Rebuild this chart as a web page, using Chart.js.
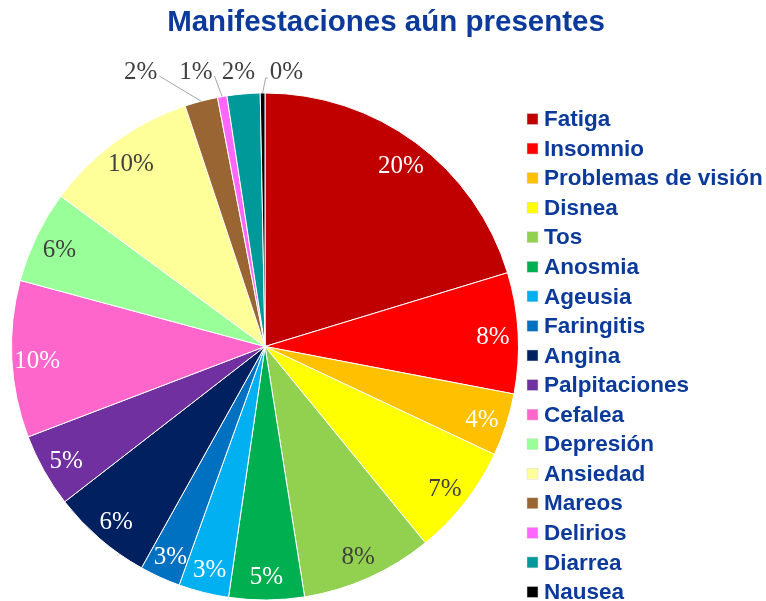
<!DOCTYPE html>
<html>
<head>
<meta charset="utf-8">
<script src="https://cdn.jsdelivr.net/npm/chart.js@4.4.1/dist/chart.umd.min.js"></script>
<style>
  html, body { margin: 0; padding: 0; background: #fff; }
  #wrap { width: 766px; height: 601px; }
</style>
</head>
<body>
<div id="wrap"><canvas id="pieChart" width="766" height="601"></canvas></div>
<script>
var categories = ['Fatiga', 'Insomnio', 'Problemas de visión', 'Disnea', 'Tos', 'Anosmia',
    'Ageusia', 'Faringitis', 'Angina', 'Palpitaciones', 'Cefalea', 'Depresión',
    'Ansiedad', 'Mareos', 'Delirios', 'Diarrea', 'Nausea'];
var percentages = [20.3, 7.7, 4.0, 7.1, 8.4, 4.8, 3.2, 2.6, 6.4, 4.7, 10.0, 5.9, 9.8, 2.1, 0.6, 2.1, 0.3];
var sliceColors = ['#C00000', '#FF0000', '#FFC000', '#FFFF00', '#92D050', '#00B050',
    '#00B0F0', '#0070C0', '#002060', '#7030A0', '#FF66CC', '#99FF99',
    '#FFFF99', '#996633', '#FF66FF', '#009999', '#000000'];

// dark text on the light slices, white everywhere else
var darkLabel = ['Disnea', 'Tos', 'Depresión', 'Ansiedad'];
// small slices get their label above the pie
var outsideLabel = {
    'Mareos': { dx: -54, line: true },
    'Delirios': { dx: -22, line: true },
    'Diarrea': { dx: -3, line: false },
    'Nausea': { dx: 24, line: true }
};

var blue = '#0B3A9B';
var chartTitle = 'Manifestaciones aún presentes';

var sliceLabels = {
    id: 'sliceLabels',
    afterDatasetsDraw: function (chart) {
        var ctx = chart.ctx;
        var meta = chart.getDatasetMeta(0);
        var total = percentages.reduce(function (a, b) { return a + b; }, 0);
        ctx.save();
        ctx.font = '25px "Liberation Serif"';
        ctx.textAlign = 'center';
        ctx.textBaseline = 'middle';
        meta.data.forEach(function (arc, i) {
            var p = arc.getProps(['x', 'y', 'startAngle', 'endAngle', 'outerRadius']);
            var mid = (p.startAngle + p.endAngle) / 2;
            var txt = Math.round(percentages[i] / total * 100) + '%';
            var name = categories[i];
            if (outsideLabel[name]) {
                var o = outsideLabel[name];
                var ax = p.x + Math.cos(mid) * p.outerRadius;
                var ay = p.y + Math.sin(mid) * p.outerRadius;
                var tx = p.x + Math.cos(mid) * (p.outerRadius + 26) + o.dx;
                var ty = p.y - p.outerRadius - 21;
                var w = ctx.measureText(txt).width;
                if (o.line) {
                    ctx.strokeStyle = '#A6A6A6';
                    ctx.lineWidth = 1;
                    ctx.beginPath();
                    ctx.moveTo(ax, ay);
                    if (tx > ax) {
                        ctx.lineTo(ax + 3, ty + 6);
                        ctx.lineTo(tx - w / 2 - 2, ty + 6);
                    } else {
                        ctx.lineTo(tx + w / 2 + 2, ty + 4);
                    }
                    ctx.stroke();
                }
                ctx.fillStyle = '#404040';
                ctx.fillText(txt, tx, ty);
            } else {
                var r = p.outerRadius * 0.9;
                ctx.fillStyle = darkLabel.indexOf(name) >= 0 ? '#404040' : '#FFFFFF';
                ctx.fillText(txt, p.x + Math.cos(mid) * r, p.y + Math.sin(mid) * r + 3);
            }
        });
        ctx.restore();
    }
};

var titleAndLegend = {
    id: 'titleAndLegend',
    afterDraw: function (chart) {
        var ctx = chart.ctx;
        ctx.save();
        ctx.fillStyle = blue;
        ctx.font = 'bold 29.5px "Liberation Sans"';
        ctx.textAlign = 'center';
        ctx.textBaseline = 'middle';
        ctx.fillText(chartTitle, 386, 23);

        ctx.font = 'bold 22.5px "Liberation Sans"';
        ctx.textAlign = 'left';
        categories.forEach(function (name, i) {
            var y = 119 + i * 29.56;
            ctx.fillStyle = sliceColors[i];
            ctx.fillRect(527, y - 5.5, 11, 11);
            ctx.strokeStyle = '#D9D9D9';
            ctx.lineWidth = 0.5;
            ctx.strokeRect(527, y - 5.5, 11, 11);
            ctx.fillStyle = blue;
            ctx.fillText(name, 544, y + 1);
        });
        ctx.restore();
    }
};

var ctx = document.getElementById('pieChart').getContext('2d');

var pieChart = new Chart(ctx, {
    type: 'pie',
    data: {
        labels: categories,
        datasets: [{
            data: percentages,
            backgroundColor: sliceColors,
            borderColor: '#FFFFFF',
            borderWidth: 1
        }]
    },
    options: {
        responsive: false,
        animation: false,
        layout: {
            padding: { left: 11, right: 247, top: 92, bottom: 0 }
        },
        plugins: {
            legend: { display: false },
            tooltip: { enabled: false },
            title: { display: false }
        }
    },
    plugins: [sliceLabels, titleAndLegend]
});
</script>
</body>
</html>
